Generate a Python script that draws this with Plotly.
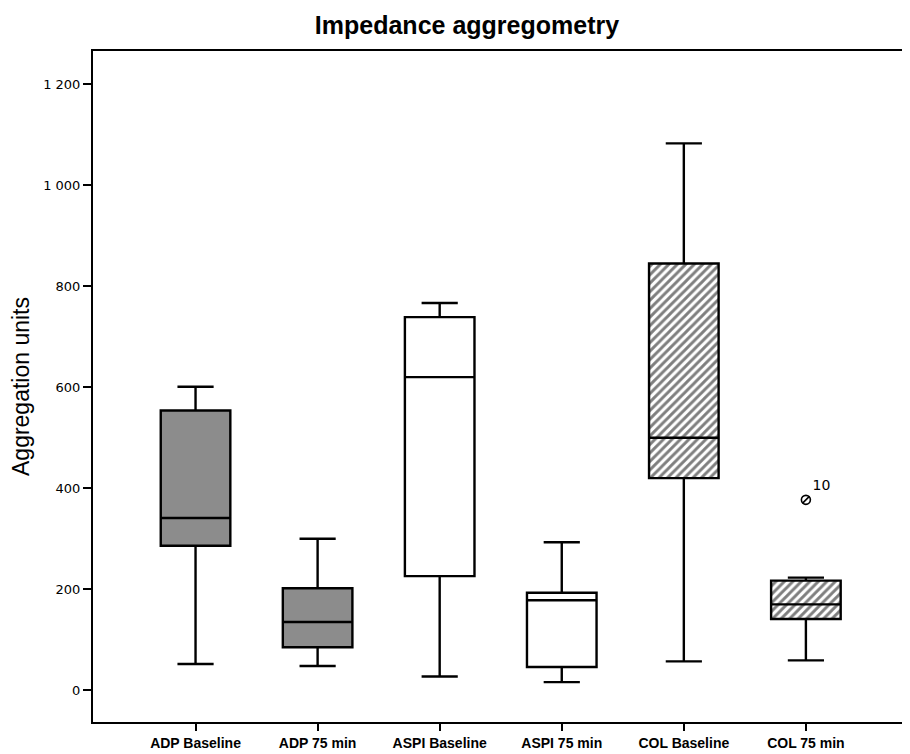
import plotly.graph_objects as go

categories = ["ADP Baseline", "ADP 75 min", "ASPI Baseline", "ASPI 75 min", "COL Baseline", "COL 75 min"]
q1 = [286, 85, 226, 46, 420, 141]
median = [341, 135, 620, 178, 500, 170]
q3 = [554, 202, 739, 193, 845, 217]
lower_whisker = [52, 48, 27, 16, 57, 59]
upper_whisker = [601, 300, 767, 293, 1083, 223]
fills = ["#8c8c8c", "#8c8c8c", "white", "white", "rgba(0,0,0,0)", "rgba(0,0,0,0)"]
hatched = [False, False, False, False, True, True]

outlier_cat = ["COL 75 min"]
outlier_val = [377]
outlier_label = ["10"]

y_tickvals = [0, 200, 400, 600, 800, 1000, 1200]
y_ticktext = ["0", "200", "400", "600", "800", "1 000", "1 200"]

BOX_W = 0.57

fig = go.Figure()

# hatched fill behind COL boxes
hx = [c for c, h in zip(categories, hatched) if h]
hb = [a for a, h in zip(q1, hatched) if h]
hh = [b - a for a, b, h in zip(q1, q3, hatched) if h]
fig.add_trace(go.Bar(
    x=hx, y=hh, base=hb, width=BOX_W,
    marker=dict(color="white", line=dict(width=0),
                pattern=dict(shape="/", fgcolor="black", bgcolor="white", size=6, solidity=0.48)),
    hoverinfo="skip", showlegend=False))

for i, c in enumerate(categories):
    fig.add_trace(go.Box(
        x=[c], q1=[q1[i]], median=[median[i]], q3=[q3[i]],
        lowerfence=[lower_whisker[i]], upperfence=[upper_whisker[i]],
        width=BOX_W, whiskerwidth=0.52, fillcolor=fills[i],
        line=dict(color="black", width=2.4), boxpoints=False,
        hoverinfo="skip", showlegend=False))

fig.add_trace(go.Scatter(
    x=outlier_cat, y=outlier_val, mode="markers+text", text=outlier_label,
    textposition="top right", textfont=dict(family="DejaVu Sans", size=14, color="black"),
    marker=dict(symbol="circle-open", size=9, color="black", line=dict(width=1.6)),
    hoverinfo="skip", showlegend=False))
fig.add_trace(go.Scatter(
    x=outlier_cat, y=outlier_val, mode="markers",
    marker=dict(symbol="line-ne", size=7, color="black", line=dict(width=1.6, color="black")),
    hoverinfo="skip", showlegend=False))

fig.update_layout(
    width=902, height=746,
    margin=dict(l=85, r=4, t=43, b=32, autoexpand=False),
    paper_bgcolor="white", plot_bgcolor="white",
    boxmode="overlay", barmode="overlay",
    title=dict(text="<b>Impedance aggregometry</b>", x=0.46, xref="paper", xanchor="center",
               y=0.977, yanchor="middle",
               font=dict(family="Liberation Sans", size=25, color="black")),
    font=dict(family="Liberation Sans", color="black"),
)

fig.update_xaxes(
    type="category", categoryorder="array", categoryarray=categories,
    range=[-0.84, 5.82], showgrid=False, zeroline=False, automargin=False,
    showline=True, linecolor="black", linewidth=2, mirror=True,
    ticks="outside", ticklen=7, tickwidth=1.5, tickcolor="black",
    tickfont=dict(family="Liberation Sans", size=14, color="black", weight="bold"))

fig.update_yaxes(
    range=[-63, 1266], showgrid=False, zeroline=False, automargin=False,
    tickvals=y_tickvals, ticktext=y_ticktext,
    showline=True, linecolor="black", linewidth=2, mirror=True,
    ticks="outside", ticklen=8, tickwidth=1.5, tickcolor="black",
    tickfont=dict(family="DejaVu Sans", size=13, color="black"),
    title=dict(text="Aggregation units", standoff=12,
               font=dict(family="Liberation Sans", size=23, color="black")))

fig.write_html("out.html")
